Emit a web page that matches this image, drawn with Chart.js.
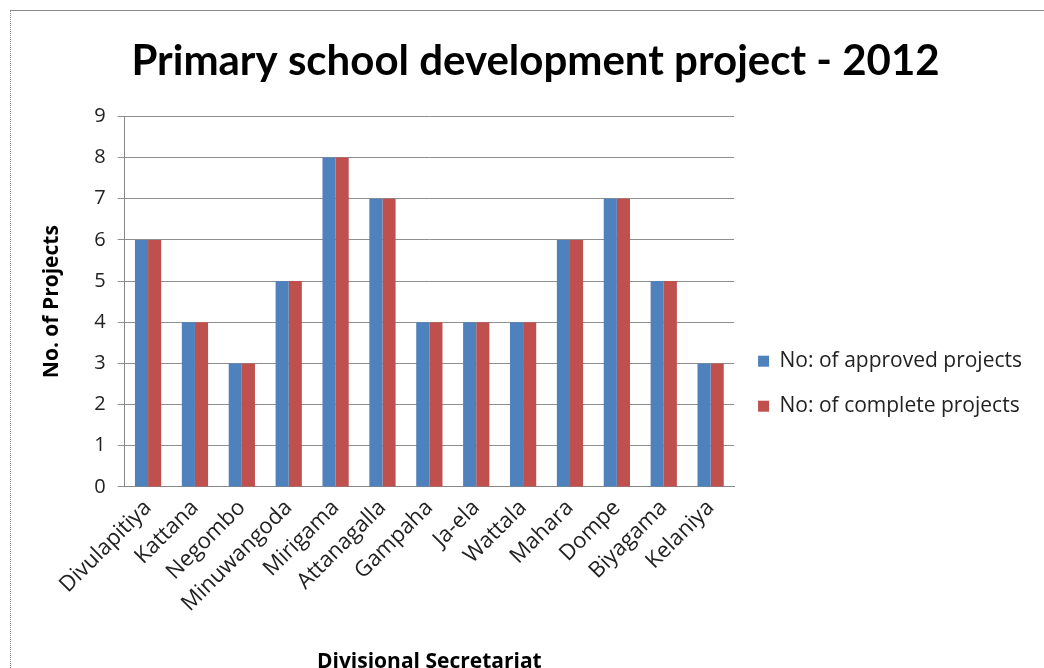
<!DOCTYPE html>
<html>
<head>
<meta charset="utf-8">
<script src="https://cdn.jsdelivr.net/npm/chart.js@4/dist/chart.umd.min.js"></script>
<style>
  html, body { margin: 0; padding: 0; background: #fff; }
  #wrap { position: relative; width: 1044px; height: 668px; overflow: hidden; }
  #frame { position: absolute; left: 10px; top: 10px; width: 1040px; height: 700px;
           border-left: 1px dotted #888; border-top: 1px solid #888; box-sizing: border-box; }
  canvas { position: absolute; left: 0; top: 0; }
</style>
</head>
<body>
<div id="wrap">
  <div id="frame"></div>
  <canvas id="c" width="1044" height="675"></canvas>
</div>
<script>
const categories = ["Divulapitiya","Kattana","Negombo","Minuwangoda","Mirigama","Attanagalla","Gampaha","Ja-ela","Wattala","Mahara","Dompe","Biyagama","Kelaniya"];
const approvedProjects = [6,4,3,5,8,7,4,4,4,6,7,5,3];
const completeProjects = [6,4,3,5,8,7,4,4,4,6,7,5,3];
const yTicks = [0,1,2,3,4,5,6,7,8,9];
const seriesNames = ["No: of approved projects","No: of complete projects"];

const TFONT = "Lato, 'Open Sans', sans-serif";
const FONT = "'Open Sans', 'Noto Sans', sans-serif";

new Chart(document.getElementById('c'), {
  type: 'bar',
  data: {
    labels: categories,
    datasets: [
      { label: seriesNames[0], data: approvedProjects, backgroundColor: '#4F81BD', categoryPercentage: 0.56, barPercentage: 1.0 },
      { label: seriesNames[1], data: completeProjects, backgroundColor: '#C0504D', categoryPercentage: 0.56, barPercentage: 1.0 }
    ]
  },
  options: {
    responsive: false,
    animation: false,
    devicePixelRatio: 1,
    layout: { padding: { left: 39, right: 12, top: 0, bottom: 0 } },
    plugins: {
      title: {
        display: true,
        text: 'Primary school development project - 2012',
        color: '#000',
        font: { family: TFONT, size: 42, weight: 'bold' },
        padding: { top: 36, bottom: 30 }
      },
      legend: {
        position: 'right',
        align: 'center',
        maxWidth: 400,
        title: { display: true, text: ' ', font: { size: 2 }, padding: { top: 90, bottom: 0 } },
        labels: {
          color: '#222',
          font: { family: FONT, size: 21 },
          boxWidth: 11,
          boxHeight: 11,
          padding: 24
        }
      },
      tooltip: { enabled: false }
    },
    scales: {
      x: {
        grid: { display: false, drawTicks: false },
        border: { display: true, color: '#888', width: 1 },
        ticks: { color: '#222', font: { family: FONT, size: 22 }, minRotation: 45, maxRotation: 45, autoSkip: false, padding: 8 },
        title: { display: true, text: 'Divisional Secretariat', color: '#000', font: { family: FONT, size: 21, weight: 'bold' }, padding: { top: 25, bottom: 0 } }
      },
      y: {
        min: 0, max: 9,
        afterBuildTicks: (axis) => { axis.ticks = yTicks.map(v => ({ value: v })); },
        grid: { color: '#8e8e8e', lineWidth: 1, tickLength: 7 },
        border: { display: true, color: '#888', width: 1 },
        ticks: { color: '#222', font: { family: FONT, size: 20 }, padding: 12 },
        title: { display: true, text: 'No. of Projects', color: '#000', font: { family: FONT, size: 21, weight: 'bold' }, padding: { top: 0, bottom: 18 } }
      }
    }
  }
});
</script>
</body>
</html>
